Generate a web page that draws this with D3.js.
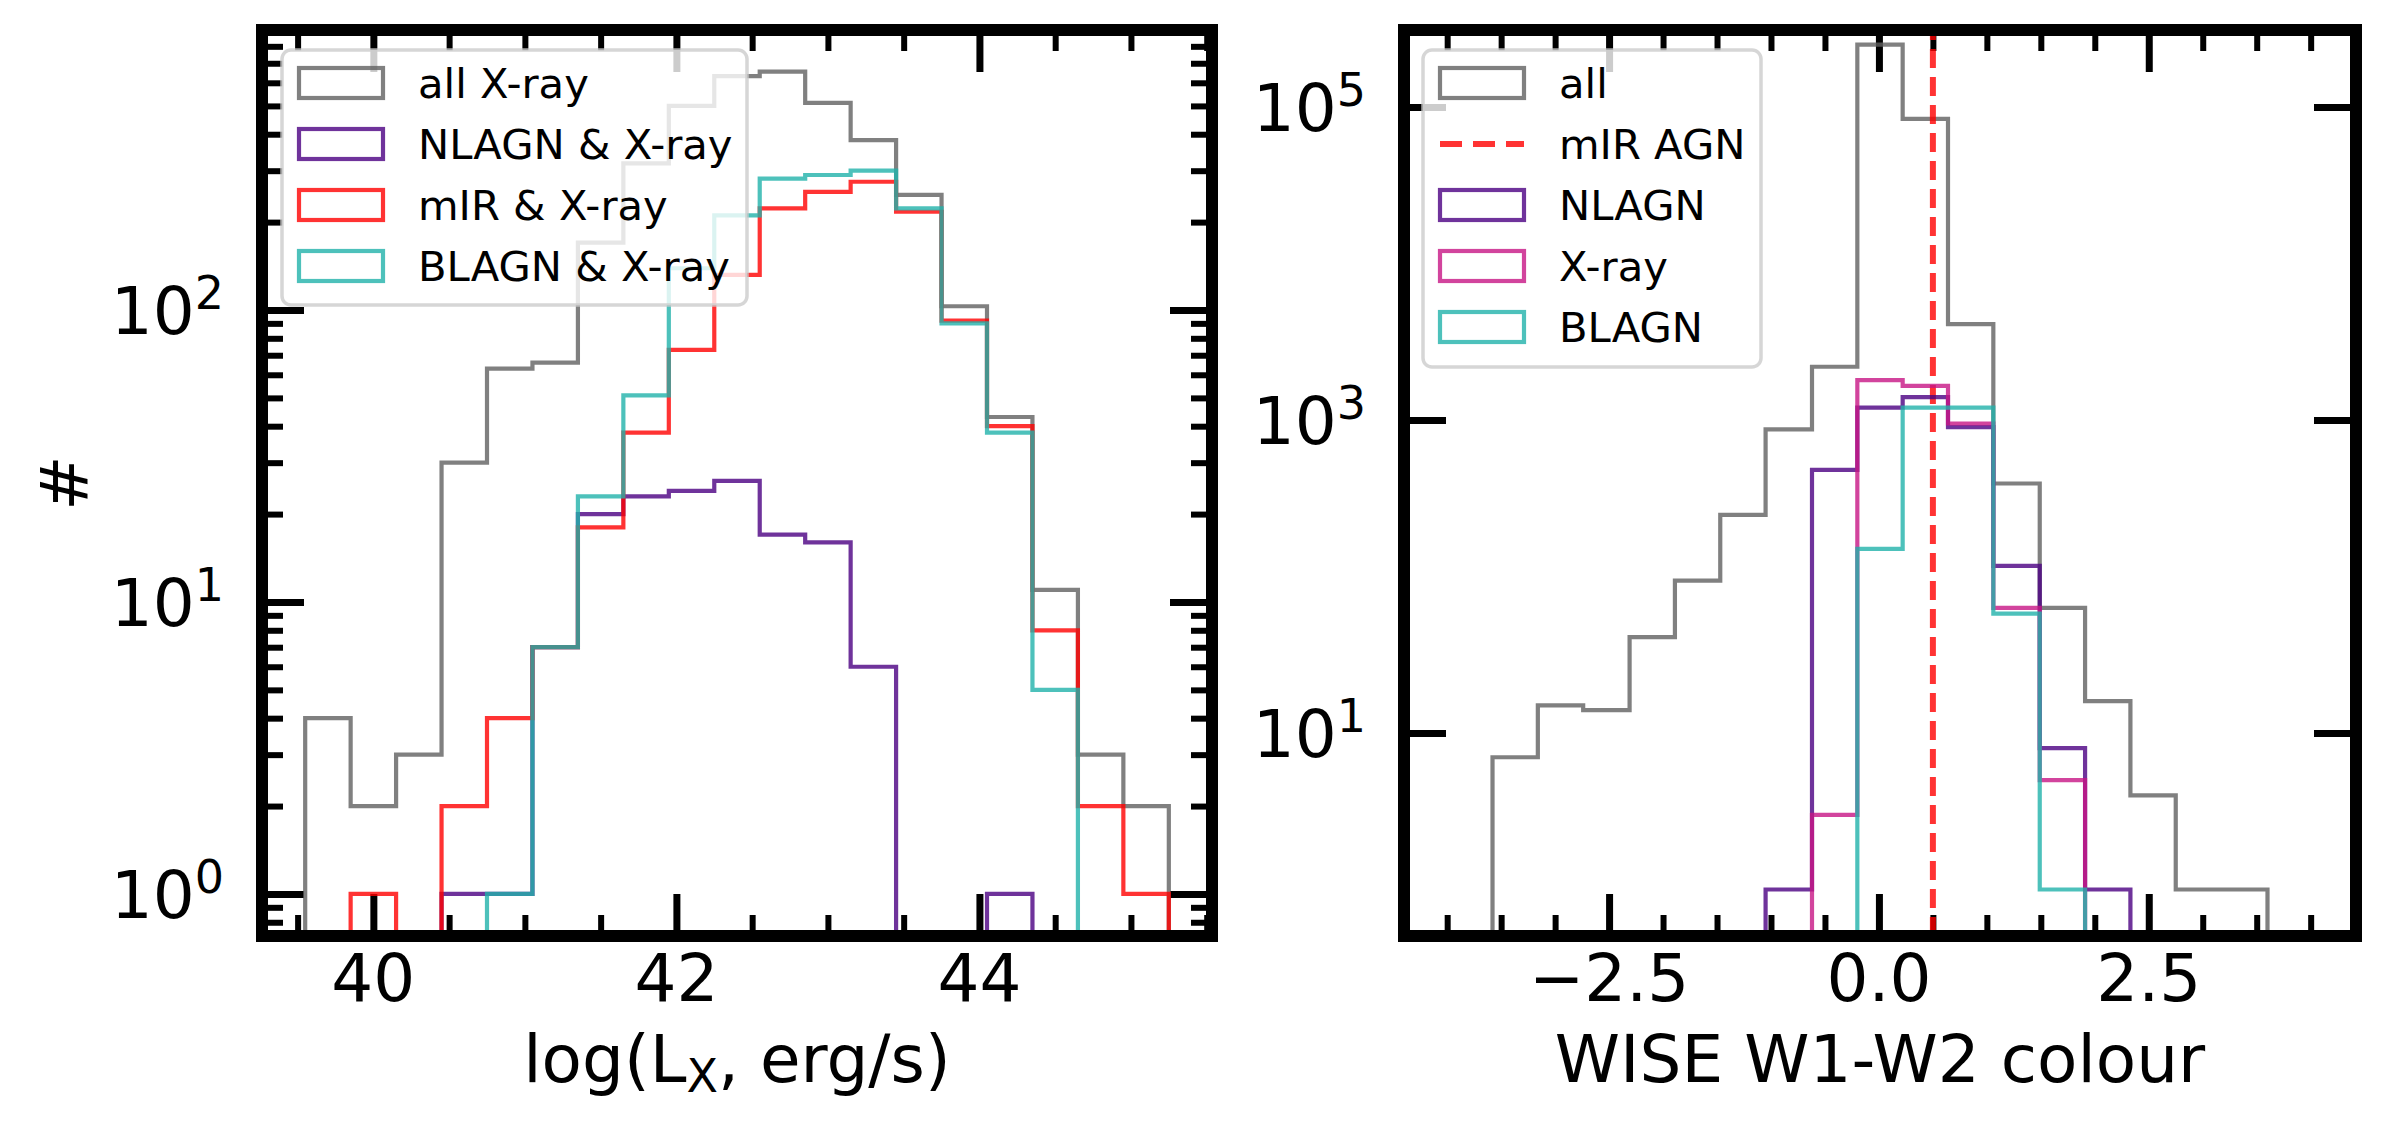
<!DOCTYPE html>
<html>
<head>
<meta charset="utf-8">
<script src="https://cdn.jsdelivr.net/npm/d3@7"></script>
<style>
  body { margin: 0; background: #fff; }
  svg { display: block; font-family: "DejaVu Sans", sans-serif; }
</style>
</head>
<body>
<svg id="fig" width="2384" height="1129"></svg>
<script>
//Left panel: log(Lx) histograms (bin edges + counts per bin)
const lxEdges = [39.55, 39.85, 40.15, 40.45, 40.75, 41.05, 41.35, 41.65, 41.95, 42.25,
                 42.55, 42.85, 43.15, 43.45, 43.75, 44.05, 44.35, 44.65, 44.95, 45.25];
const lxAll   = [4, 2, 3, 30, 63, 66, 170, 318, 500, 632, 655, 512, 382, 248, 103, 43, 11, 3, 2];
const lxNlagn = [0, 0, 0, 1, 1, 7, 20, 23, 24, 26, 17, 16, 6, 0, 0, 1, 0, 0, 0];
const lxMir   = [0, 1, 0, 2, 4, 7, 18, 38, 73, 132, 223, 254, 275, 217, 92, 40, 8, 2, 1];
const lxBlagn = [0, 0, 0, 0, 1, 7, 23, 51, 139, 211, 282, 290, 300, 223, 90, 38, 5, 0, 0];
const lxTicks = [40, 42, 44];
const lxMinor = [39.5, 40.5, 41, 41.5, 42.5, 43, 43.5, 44.5, 45, 45.5];
const lxYTicks = [1, 10, 100];

//Right panel: WISE W1-W2 colour histograms
const wEdges = [-4.00, -3.58, -3.16, -2.74, -2.31, -1.89, -1.47, -1.05, -0.62, -0.20,
                0.22, 0.64, 1.06, 1.49, 1.91, 2.33, 2.75, 3.18, 3.60, 4.02];
const wAll   = [0, 7, 15, 14, 41, 94, 248, 871, 2190, 250000, 84000, 4100, 393, 63, 16, 4, 1, 1, 0];
const wNlagn = [0, 0, 0, 0, 0, 0, 0, 1, 480, 1200, 1400, 900, 117, 8, 1, 0, 0, 0, 0];
const wXray  = [0, 0, 0, 0, 0, 0, 0, 0, 3, 1800, 1650, 950, 63, 5, 0, 0, 0, 0, 0];
const wBlagn = [0, 0, 0, 0, 0, 0, 0, 0, 0, 150, 1200, 1200, 58, 1, 0, 0, 0, 0, 0];
const wTicks = [-2.5, 0, 2.5];
const wTickLabels = ["\u22122.5", "0.0", "2.5"];
const wMinor = [-4, -3.5, -3, -2, -1.5, -1, -0.5, 0.5, 1, 1.5, 2, 3, 3.5, 4];
const wYTicks = [10, 1000, 100000];
const mirCut = 0.5;

//Colours
const cAll = "#606060", cNl = "indigo", cMir = "red", cBl = "lightseagreen", cX = "mediumvioletred";

const svg = d3.select("#fig");
const defs = svg.append("defs");

function logMinors(lo, hi) {
  const out = [];
  for (let e = Math.floor(Math.log10(lo)); e <= Math.ceil(Math.log10(hi)); e++) {
    for (let m = 2; m <= 9; m++) {
      const v = m * Math.pow(10, e);
      if (v > lo && v < hi) out.push(v);
    }
  }
  return out;
}

function drawPanel(o) {
  const x = d3.scaleLinear().domain(o.xDomain).range([o.left, o.right]);
  const y = d3.scaleLog().domain(o.yDomain).range([o.bottom, o.top]);
  const g = svg.append("g");

  defs.append("clipPath").attr("id", o.id + "-clip")
      .append("rect")
      .attr("x", o.left).attr("y", o.top)
      .attr("width", o.right - o.left).attr("height", o.bottom - o.top);

  //Ticks (inward, all four sides)
  const tk = (axisFn, tx, ty, scale, vals, len, sw) => {
    const a = g.append("g")
               .attr("transform", `translate(${tx},${ty})`)
               .call(axisFn(scale).tickValues(vals).tickSize(-len).tickFormat(() => ""));
    a.select(".domain").remove();
    a.selectAll("text").remove();
    a.selectAll("line").attr("stroke", "#000").attr("stroke-width", sw);
  };
  [[d3.axisBottom, 0, o.bottom], [d3.axisTop, 0, o.top]].forEach(([ax, tx, ty]) => {
    tk(ax, tx, ty, x, o.xMinor, 21, 6);
    tk(ax, tx, ty, x, o.xTicks, 42, 7);
  });
  [[d3.axisLeft, o.left, 0], [d3.axisRight, o.right, 0]].forEach(([ax, tx, ty]) => {
    if (o.yMinor.length) tk(ax, tx, ty, y, o.yMinor, 21, 6);
    tk(ax, tx, ty, y, o.yTicks, 42, 7);
  });

  //Step histograms
  const plot = g.append("g").attr("clip-path", `url(#${o.id}-clip)`);
  const line = d3.line()
                 .x(d => x(d[0]))
                 .y(d => d[1] > 0 ? y(d[1]) : o.bottom + 40);
  o.series.forEach(s => {
    const pts = [[o.edges[0], 0]];
    s.counts.forEach((c, i) => { pts.push([o.edges[i], c], [o.edges[i + 1], c]); });
    pts.push([o.edges[o.edges.length - 1], 0]);
    plot.append("path")
        .attr("d", line(pts))
        .attr("fill", "none")
        .attr("stroke", s.color)
        .attr("stroke-opacity", 0.8)
        .attr("stroke-width", 4.2)
        .attr("stroke-linejoin", "miter");
    if (s.after) s.after(plot, x, y);
  });

  //Spines
  g.append("rect")
   .attr("x", o.left).attr("y", o.top)
   .attr("width", o.right - o.left).attr("height", o.bottom - o.top)
   .attr("fill", "none").attr("stroke", "#000").attr("stroke-width", 12);

  //Tick labels
  o.xTicks.forEach((v, i) => {
    g.append("text")
     .attr("x", x(v)).attr("y", 1001)
     .attr("text-anchor", "middle")
     .attr("font-size", 66)
     .text(o.xLabels[i]);
  });
  o.yTicks.forEach(v => {
    const t = g.append("text")
               .attr("x", o.left - 38).attr("y", y(v) + 24)
               .attr("text-anchor", "end")
               .attr("font-size", 66);
    t.append("tspan").text("10");
    t.append("tspan").attr("dy", -25).attr("font-size", 46).text(Math.round(Math.log10(v)));
  });

  //Axis label
  o.xTitle(g.append("text")
            .attr("x", (o.left + o.right) / 2).attr("y", 1082)
            .attr("text-anchor", "middle")
            .attr("font-size", 66));

  //Legend
  const L = o.legend;
  const lg = g.append("g");
  lg.append("rect")
    .attr("x", L.x).attr("y", L.y).attr("width", L.w).attr("height", L.h)
    .attr("rx", 9)
    .attr("fill", "#fff").attr("fill-opacity", 0.8)
    .attr("stroke", "#cccccc").attr("stroke-opacity", 0.8).attr("stroke-width", 3.5);
  L.items.forEach((it, i) => {
    const ty = L.y + 18 + i * 61;
    if (it.dashed) {
      lg.append("line")
        .attr("x1", L.x + 17).attr("x2", L.x + 101)
        .attr("y1", ty + 15).attr("y2", ty + 15)
        .attr("stroke", it.color).attr("stroke-opacity", 0.8)
        .attr("stroke-width", 6).attr("stroke-dasharray", "22,11");
    } else {
      lg.append("rect")
        .attr("x", L.x + 17).attr("y", ty).attr("width", 84).attr("height", 30)
        .attr("fill", "none")
        .attr("stroke", it.color).attr("stroke-opacity", 0.8).attr("stroke-width", 4.2);
    }
    lg.append("text")
      .attr("x", L.x + 136).attr("y", ty + 30)
      .attr("font-size", 41.7)
      .text(it.label);
  });
}

//Left panel
drawPanel({
  id: "lx",
  left: 262, right: 1212, top: 30, bottom: 936,
  xDomain: [39.265, 45.535],
  yDomain: [Math.pow(10, -0.144), Math.pow(10, 2.959)],
  edges: lxEdges,
  xTicks: lxTicks, xLabels: lxTicks.map(String), xMinor: lxMinor,
  yTicks: lxYTicks, yMinor: logMinors(Math.pow(10, -0.144), Math.pow(10, 2.959)),
  series: [
    { counts: lxAll, color: cAll },
    { counts: lxNlagn, color: cNl },
    { counts: lxMir, color: cMir },
    { counts: lxBlagn, color: cBl }
  ],
  xTitle: t => {
    t.append("tspan").text("log(L");
    t.append("tspan").attr("dy", 10).attr("font-size", 46).text("X");
    t.append("tspan").attr("dy", -10).text(", erg/s)");
  },
  legend: {
    x: 282, y: 50, w: 465, h: 255,
    items: [
      { label: "all X-ray", color: cAll },
      { label: "NLAGN & X-ray", color: cNl },
      { label: "mIR & X-ray", color: cMir },
      { label: "BLAGN & X-ray", color: cBl }
    ]
  }
});

//Right panel
drawPanel({
  id: "w12",
  left: 1404, right: 2356, top: 30, bottom: 936,
  xDomain: [-4.40, 4.42],
  yDomain: [Math.pow(10, -0.297), Math.pow(10, 5.492)],
  edges: wEdges,
  xTicks: wTicks, xLabels: wTickLabels, xMinor: wMinor,
  yTicks: wYTicks, yMinor: [],
  series: [
    { counts: wAll, color: cAll,
      after: (p, x, y) => {
        //mIR AGN colour cut
        p.append("line")
         .attr("x1", x(mirCut)).attr("x2", x(mirCut))
         .attr("y1", 936).attr("y2", 30)
         .attr("stroke", cMir).attr("stroke-opacity", 0.8)
         .attr("stroke-width", 6).attr("stroke-dasharray", "19,9");
      } },
    { counts: wNlagn, color: cNl },
    { counts: wXray, color: cX },
    { counts: wBlagn, color: cBl }
  ],
  xTitle: t => t.text("WISE W1-W2 colour"),
  legend: {
    x: 1423, y: 50, w: 338, h: 317,
    items: [
      { label: "all", color: cAll },
      { label: "mIR AGN", color: cMir, dashed: true },
      { label: "NLAGN", color: cNl },
      { label: "X-ray", color: cX },
      { label: "BLAGN", color: cBl }
    ]
  }
});

//Y axis title
svg.append("text")
   .attr("transform", "translate(64,483) rotate(-90)")
   .attr("dy", "0.35em")
   .attr("text-anchor", "middle")
   .attr("font-size", 66)
   .text("#");
</script>
</body>
</html>
